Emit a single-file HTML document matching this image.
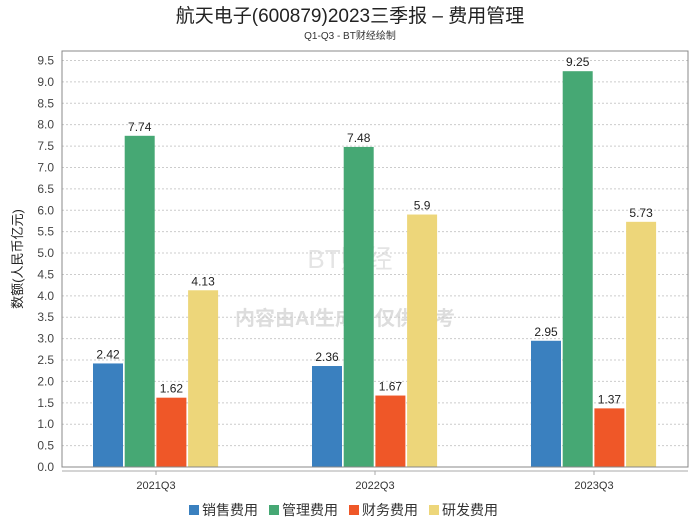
<!DOCTYPE html>
<html><head><meta charset="utf-8"><style>
body{margin:0;background:#fff;}
svg text{font-family:"Liberation Sans","Noto Sans CJK SC",sans-serif;}
</style></head><body>
<svg id="c" width="700" height="524" xmlns="http://www.w3.org/2000/svg">
<text x="350" y="22" text-anchor="middle" font-size="19" fill="#222">航天电子(600879)2023三季报 – 费用管理</text>
<text x="350" y="39" text-anchor="middle" font-size="10" fill="#333">Q1-Q3 - BT财经绘制</text>
<text x="345" y="325" text-anchor="middle" font-size="20" fill="#ddd" font-weight="bold">内容由AI生成，仅供参考</text>
<text x="350" y="268" text-anchor="middle" font-size="26" fill="#e4e4e4" font-family="Liberation Serif">BT财经</text>
<g id="grid"></g><g id="bars"></g><g id="labels"></g>
<rect x="62" y="51" width="626" height="416" fill="none" stroke="#888"/>
<line x1="62" y1="471" x2="688" y2="471" stroke="#aaa"/>
<text transform="translate(22,259) rotate(-90)" text-anchor="middle" font-size="13" fill="#222">数额(人民币亿元)</text>
<g id="legend"></g>
</svg>
<script>
const categories=["2021Q3","2022Q3","2023Q3"];
const seriesNames=["销售费用","管理费用","财务费用","研发费用"];
const colors=["#3a80bf","#46a874","#ef5728","#edd67a"];
const sales=[2.42,2.36,2.95];
const admin=[7.74,7.48,9.25];
const finance=[1.62,1.67,1.37];
const rnd=[4.13,5.9,5.73];
const yTicks=[0,0.5,1,1.5,2,2.5,3,3.5,4,4.5,5,5.5,6,6.5,7,7.5,8,8.5,9,9.5];
const series=[sales,admin,finance,rnd];
const NS="http://www.w3.org/2000/svg";
const y=v=>467-v*42.79;
const gx=i=>156+i*219;
function mk(t,a,p){const e=document.createElementNS(NS,t);for(const k in a)e.setAttribute(k,a[k]);document.getElementById(p).appendChild(e);return e;}
yTicks.forEach(t=>{
  const l=mk('line',{x1:62,x2:688,y1:y(t),y2:y(t),stroke:'#ccc','stroke-dasharray':'2,2'},'grid');
  
  
  const tx=mk('text',{x:54,y:y(t)+4,'text-anchor':'end','font-size':12,fill:'#444'},'grid');
  tx.textContent=t.toFixed(1);
  
  
});
categories.forEach((c,i)=>{
  const tk=mk('line',{x1:gx(i),x2:gx(i),y1:471,y2:475,stroke:'#aaa'},'grid');
  
  
  const tx=mk('text',{x:gx(i),y:489,'text-anchor':'middle','font-size':11,fill:'#333'},'grid');
  tx.textContent=c;
  
  
  series.forEach((s,j)=>{
    const x=gx(i)-63+j*31.7;
    const r=mk('rect',{x:x,y:y(s[i]),width:30,height:467-y(s[i]),fill:colors[j]},'bars');
    
    
    const lb=mk('text',{x:x+15,y:y(s[i])-5,'text-anchor':'middle','font-size':12,fill:'#222'},'labels');
    lb.textContent=String(s[i]);
    
    
  });
});
let lx=189;
seriesNames.forEach((n,j)=>{
  const r=mk('rect',{x:lx,y:505,width:10,height:10,fill:colors[j]},'legend');
  
  
  const t=mk('text',{x:lx+13,y:515,'font-size':14,fill:'#333'},'legend');
  t.textContent=n;
  
  
  lx+=80;
});
</script>
</body></html>
